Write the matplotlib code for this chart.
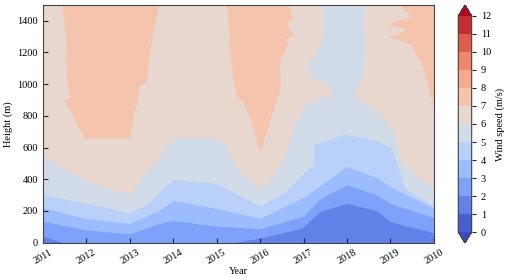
import numpy as np
import matplotlib
matplotlib.use('Agg')
import matplotlib.pyplot as plt
from matplotlib import colors as mcolors, cm

plt.rcParams['font.family'] = ['Liberation Serif', 'DejaVu Serif']
plt.rcParams['font.size'] = 7.5

years = ['2011', '2012', '2013', '2014', '2015', '2016', '2017', '2018', '2019', '2010']
levels = np.arange(0, 13)
top = 1500

# height (m) of each isotach along the time axis (0 = first year)
x2 = [0, 0.46, 4.4, 5.0, 5.95, 6.4, 7.0, 7.7, 8.0, 9.0]
h2 = [40, 0, 0, 30, 90, 200, 248, 200, 132, 62]

x3 = [0, 1, 2, 2.7, 3, 4, 5, 6, 6.4, 7, 7.7, 8, 9]
h3 = [135, 80, 56, 122, 140, 104, 88, 168, 280, 364, 300, 248, 158]

x4 = [0, 1, 2, 2.7, 3, 4, 5, 6, 6.4, 7, 7.7, 8, 9]
h4 = [220, 152, 122, 206, 266, 217, 154, 285, 365, 479, 410, 353, 217]

x5 = [0, 1, 2, 2.46, 2.77, 3, 4, 5, 5.57, 5.96, 6.22, 6.23, 6.95, 7.64, 8.03, 8.17, 8.35, 9]
h5 = [302, 250, 186, 258, 343, 398, 374, 232, 322, 427, 490, 616, 683, 647, 595, 480, 340, 232]

x6 = [0, 0.55, 1, 2, 2.31, 2.62, 2.85, 3, 3.93, 4.23, 4.38, 4.54, 4.73, 5.0, 5.34, 5.57, 5.8,
      6.03, 6.41, 6.68, 6.54, 6.19, 6.10, 6.31, 6.45, 6.45, 7.41, 7.38, 7.41, 7.39, 7.35, 7.18,
      7.48, 7.87, 8.1, 8.26, 8.56, 9]
h6 = [548, 458, 388, 300, 427, 511, 616, 658, 658, 616, 511, 447, 406, 343, 427, 553, 742,
      868, 912, 931, 1006, 1038, 1133, 1196, 1321, 1500, 1500, 1403, 1258, 1107, 1045, 931,
      868, 784, 679, 511, 427, 343]

x7 = [0.00, 0.43, 0.51, 0.55, 0.62, 0.49, 0.66, 0.85, 0.97, 2.00, 2.08, 2.16, 2.22, 2.38, 2.46, 2.58, 2.67,
      4.23, 4.34, 4.40, 4.45, 4.62, 4.80, 5.00, 5.19, 5.30, 5.42, 5.46, 5.45, 5.50, 5.64, 5.58, 5.75, 5.61,
      5.75, 5.68, 5.69,
      8.22, 8.49, 7.93, 8.38, 7.99, 8.45, 8.75, 9.00]
h7 = [1500, 1500, 1341, 1006, 920, 899, 817, 710, 659, 659, 805, 880, 994, 1015, 1214, 1384, 1500,
      1500, 1109, 1006, 930, 880, 763, 574, 742, 847, 931, 1000, 1130, 1172, 1256, 1280, 1310, 1383,
      1424, 1470, 1500,
      1500, 1424, 1378, 1345, 1300, 1256, 1109, 850]

isotachs = {2: (x2, h2), 3: (x3, h3), 4: (x4, h4), 5: (x5, h5), 6: (x6, h6), 7: (x7, h7)}

base = plt.get_cmap('coolwarm')
band = [base((k + 0.5) / 12) for k in range(12)]
cmap = mcolors.ListedColormap(band).with_extremes(under=base(0.0), over=base(1.0))
norm = mcolors.BoundaryNorm(levels, cmap.N)

fig = plt.figure(figsize=(5.05, 2.78), dpi=100)
ax = fig.add_axes([0.085, 0.127, 0.774, 0.856])
ax.set_facecolor(band[1])
for lev, (x, h) in isotachs.items():
    ax.fill_between(x, h, top, color=band[lev], lw=0)

ax.set_xlim(0, 9)
ax.set_ylim(0, top)
ax.set_xticks(range(len(years)))
ax.set_xticklabels(years, rotation=30)
ax.set_yticks(range(0, 1500, 200))
ax.tick_params(direction='in', length=3.5, color='#222222')
for s in ax.spines.values():
    s.set_color('#444444')
ax.set_xlabel('Year', labelpad=1)
ax.set_ylabel('Height (m)', labelpad=3)

cax = fig.add_axes([0.9075, 0.126, 0.0265, 0.856])
cb = fig.colorbar(cm.ScalarMappable(norm=norm, cmap=cmap), cax=cax, extend='both', ticks=levels)
cb.outline.set_edgecolor('#444444')
cb.ax.tick_params(length=3, color='#222222')
cb.set_label('Wind speed (m/s)', labelpad=3)

fig.savefig('out.png', dpi=100)
